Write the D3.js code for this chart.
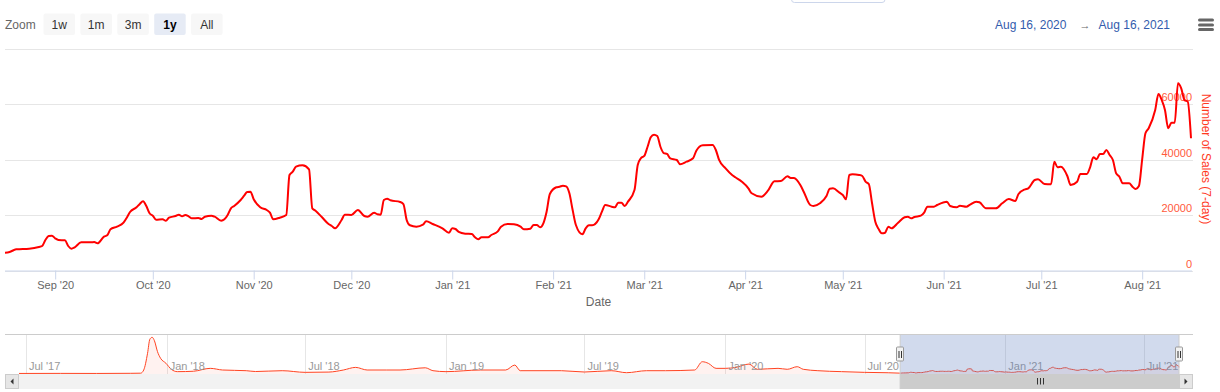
<!DOCTYPE html>
<html>
<head>
<meta charset="utf-8">
<script src="https://cdn.jsdelivr.net/npm/d3@7"></script>
<style>
  body { margin: 0; background: #fff; }
  svg { display: block; font-family: "Liberation Sans", Arial, Helvetica, sans-serif; }
</style>
</head>
<body>
<div id="container"></div>
<script>
/* CONSTANTS AND GLOBALS */
const width = 1220,
  height = 392,
  plot = {left: 5, right: 1192, top: 48.5, bottom: 270.5},
  nav = {left: 19, right: 1179, top: 334, bottom: 374, outerLeft: 5, outerRight: 1193},
  scrollH = 15;

/* DATA */
const saleDates = [
  "2020-08-16","2020-08-18","2020-08-20","2020-08-21","2020-08-24","2020-08-27","2020-08-28","2020-08-29","2020-08-30","2020-08-31",
  "2020-09-01","2020-09-02","2020-09-04","2020-09-05","2020-09-06","2020-09-07","2020-09-09","2020-09-12","2020-09-13","2020-09-14",
  "2020-09-16","2020-09-17","2020-09-18","2020-09-20","2020-09-22","2020-09-23","2020-09-24","2020-09-26","2020-09-27","2020-09-28",
  "2020-09-29","2020-09-30","2020-10-01","2020-10-02","2020-10-04","2020-10-05","2020-10-06","2020-10-08","2020-10-09","2020-10-10",
  "2020-10-11","2020-10-12","2020-10-13","2020-10-15","2020-10-16","2020-10-17","2020-10-19","2020-10-20","2020-10-22","2020-10-23",
  "2020-10-24","2020-10-25","2020-10-26","2020-10-28","2020-10-29","2020-10-30","2020-10-31","2020-11-01","2020-11-03","2020-11-05",
  "2020-11-06","2020-11-07","2020-11-09","2020-11-11","2020-11-12","2020-11-13","2020-11-14","2020-11-16","2020-11-18","2020-11-19",
  "2020-11-20","2020-11-22","2020-11-24","2020-11-25","2020-11-26","2020-11-28","2020-11-29","2020-12-01","2020-12-03","2020-12-05",
  "2020-12-06","2020-12-08","2020-12-09","2020-12-10","2020-12-11","2020-12-12","2020-12-13","2020-12-16","2020-12-17","2020-12-18",
  "2020-12-19","2020-12-21","2020-12-23","2020-12-24","2020-12-26","2020-12-29","2020-12-31","2021-01-01","2021-01-02","2021-01-03",
  "2021-01-05","2021-01-07","2021-01-08","2021-01-09","2021-01-10","2021-01-12","2021-01-13","2021-01-15","2021-01-16","2021-01-18",
  "2021-01-20","2021-01-22","2021-01-23","2021-01-25","2021-01-26","2021-01-27","2021-01-28","2021-01-29","2021-01-30","2021-01-31",
  "2021-02-02","2021-02-03","2021-02-04","2021-02-05","2021-02-06","2021-02-07","2021-02-08","2021-02-10","2021-02-11","2021-02-12",
  "2021-02-13","2021-02-15","2021-02-16","2021-02-17","2021-02-19","2021-02-20","2021-02-21","2021-02-22","2021-02-23","2021-02-24",
  "2021-02-26","2021-02-27","2021-02-28","2021-03-01","2021-03-02","2021-03-03","2021-03-04","2021-03-05","2021-03-06","2021-03-07",
  "2021-03-08","2021-03-09","2021-03-11","2021-03-12","2021-03-14","2021-03-16","2021-03-17","2021-03-19","2021-03-22","2021-03-23",
  "2021-03-24","2021-03-26","2021-03-28","2021-03-29","2021-03-31","2021-04-02","2021-04-03","2021-04-06","2021-04-08","2021-04-10",
  "2021-04-12","2021-04-14","2021-04-15","2021-04-16","2021-04-18","2021-04-19","2021-04-21","2021-04-22","2021-04-24","2021-04-26",
  "2021-04-27","2021-04-28","2021-04-30","2021-05-01","2021-05-02","2021-05-03","2021-05-04","2021-05-06","2021-05-07","2021-05-08",
  "2021-05-09","2021-05-10","2021-05-11","2021-05-12","2021-05-13","2021-05-14","2021-05-15","2021-05-16","2021-05-18","2021-05-20",
  "2021-05-21","2021-05-22","2021-05-23","2021-05-25","2021-05-26","2021-05-27","2021-05-29","2021-05-30","2021-06-02","2021-06-03",
  "2021-06-05","2021-06-06","2021-06-08","2021-06-09","2021-06-11","2021-06-12","2021-06-14","2021-06-17","2021-06-19","2021-06-21",
  "2021-06-23","2021-06-24","2021-06-26","2021-06-27","2021-06-29","2021-06-30","2021-07-02","2021-07-04","2021-07-05","2021-07-06",
  "2021-07-07","2021-07-09","2021-07-10","2021-07-12","2021-07-13","2021-07-15","2021-07-16","2021-07-17","2021-07-18","2021-07-19",
  "2021-07-20","2021-07-21","2021-07-22","2021-07-23","2021-07-24","2021-07-25","2021-07-26","2021-07-28","2021-07-29","2021-07-30",
  "2021-07-31","2021-08-01","2021-08-02","2021-08-03","2021-08-05","2021-08-06","2021-08-07","2021-08-08","2021-08-09","2021-08-10",
  "2021-08-11","2021-08-12","2021-08-13","2021-08-14","2021-08-15","2021-08-16"
];
const sales = [
  6300,6660,7640,7700,7860,8470,8830,10990,12430,12540,
  11600,11000,10880,8830,7860,8360,10160,10160,10270,9800,
  12180,12690,14850,15790,17230,19030,21080,22770,24000,24940,
  23250,20610,19750,18310,18450,17950,19030,19640,20110,19530,
  20000,19530,18810,18920,18560,19390,19750,19390,17950,18450,
  20000,22410,23250,25410,26850,28290,28400,25660,22770,21800,
  20830,18450,19030,20000,34420,35610,37410,37910,36470,22410,
  21550,19170,16760,16040,15210,18200,20110,20000,21800,19640,
  19390,20830,20250,20110,25410,25880,25300,24700,23960,18200,
  16290,15790,16510,17730,16760,15210,13620,15210,14960,13880,
  13260,13150,11960,11240,11960,11960,12790,14130,15790,16760,
  16650,15790,14850,15070,16400,16400,15570,17010,21190,27570,
  29980,30200,30560,30300,27800,21800,16400,13050,15210,16290,
  16290,18450,21190,23610,22990,22770,24430,24430,23250,24800,
  29000,38000,40500,41270,44500,48000,48940,48470,44500,42300,
  41990,40430,39820,38270,39210,40430,43180,45120,45230,43430,
  39820,36830,34420,33590,32000,29620,27820,26600,28760,32150,
  32260,33950,33340,33300,30700,28400,23610,23250,24220,26850,
  29480,29620,28040,27210,25660,34420,34670,34420,34060,32000,
  31170,24220,17590,15000,13400,13620,15790,15210,17230,19170,
  19390,18810,19280,19750,20830,22990,22990,23610,24800,23250,
  22770,23350,22990,23610,24800,24580,22410,22410,24220,25770,
  25050,27570,29260,29620,32620,32870,31170,31060,39210,37190,
  37410,34060,30810,32000,34780,34780,37190,40790,40080,41990,
  41990,43430,41630,39820,35030,33810,31430,31430,30200,29370,
  30450,40080,49450,51250,57840,63610,61450,57840,51250,53270,
  53270,67470,65660,61450,60840,47650
];

// navigator history before the selected year
const navDates = [
  "2017-06-22","2017-08-15","2017-10-01","2017-11-15","2017-11-28","2017-12-02","2017-12-07","2017-12-10","2017-12-13","2017-12-16",
  "2017-12-20","2017-12-24","2017-12-31","2018-01-07","2018-01-15","2018-02-05","2018-02-27","2018-03-15","2018-04-15","2018-04-27",
  "2018-06-01","2018-07-01","2018-08-01","2018-08-20","2018-09-05","2018-09-20","2018-10-15","2018-11-02","2018-12-05","2018-12-15",
  "2019-01-01","2019-02-15","2019-03-20","2019-04-01","2019-04-08","2019-06-01","2019-07-01","2019-08-05","2019-08-25","2019-09-20",
  "2019-10-15","2019-11-22","2019-12-02","2019-12-10","2019-12-20","2020-01-01","2020-01-15","2020-02-01","2020-02-12","2020-03-10",
  "2020-03-22","2020-04-04","2020-04-12","2020-05-01","2020-06-01","2020-07-01","2020-08-01"
];
const navSales = [
  4000,4500,4000,5000,6000,29000,150000,252000,266000,241000,
  162000,114000,78000,34000,17000,20000,41000,29000,24000,18000,
  24000,12000,14000,29000,48000,29000,29000,29000,45000,24000,
  17000,29000,29000,65000,24000,24000,14500,24000,9400,24000,
  24000,29000,89000,77000,41000,41000,48000,72000,34000,41000,
  34000,53000,34000,24000,17000,12000,9000
];

const yTicks = [0, 20000, 40000, 60000, 80000];
const monthTicks = ["2020-09-01","2020-10-01","2020-11-01","2020-12-01","2021-01-01","2021-02-01",
  "2021-03-01","2021-04-01","2021-05-01","2021-06-01","2021-07-01","2021-08-01"];
const navTicks = ["2017-07-01","2018-01-01","2018-07-01","2019-01-01","2019-07-01","2020-01-01",
  "2020-07-01","2021-01-01","2021-07-01"];
const zoomButtons = ["1w", "1m", "3m", "1y", "All"];
const selectedButton = "1y";
const rangeFrom = "Aug 16, 2020", rangeTo = "Aug 16, 2021";

const parse = d3.timeParse("%Y-%m-%d");
let xScale, yScale, navX, navY;
let state = {data: [], navData: []};

/* INITIALIZING FUNCTION */
function init() {
  state.data = saleDates.map((d, i) => ({date: parse(d), value: sales[i]}));
  state.navData = navDates.map((d, i) => ({date: parse(d), value: navSales[i]})).concat(state.data);

  xScale = d3.scaleTime()
    .domain([new Date(2020, 7, 16, 14), parse("2021-08-16")])
    .range([plot.left, 1191]);

  yScale = d3.scaleLinear()
    .domain([0, 80000])
    .range([plot.bottom, plot.top]);

  navX = d3.scaleTime()
    .domain([parse("2017-06-22"), parse("2021-08-16")])
    .range([nav.left, nav.right]);

  navY = d3.scaleLinear()
    .domain([0, 290000])
    .range([nav.bottom, nav.top]);

  draw();
}

/* DRAW FUNCTION */
function draw() {
  const svg = d3.select("#container")
    .append("svg")
    .attr("width", width)
    .attr("height", height);

  // popup edge peeking in at the top
  svg.append("rect")
    .attr("x", 791.5).attr("y", -12).attr("width", 93.5).attr("height", 14.5)
    .attr("rx", 3).attr("fill", "#fff").attr("stroke", "#ccd6eb");

  // range selector
  svg.append("text").attr("x", 5).attr("y", 28.5)
    .attr("font-size", 12).attr("fill", "#666").text("Zoom");

  const btn = svg.selectAll("g.btn")
    .data(zoomButtons)
    .join("g")
    .attr("class", "btn")
    .attr("transform", (d, i) => `translate(${43.5 + i * 36.9},13.5)`);
  btn.append("rect")
    .attr("width", 31.5).attr("height", 21.5).attr("rx", 2)
    .attr("fill", d => d === selectedButton ? "#e6ebf5" : "#f7f7f7");
  btn.append("text")
    .attr("x", 15.75).attr("y", 15)
    .attr("text-anchor", "middle")
    .attr("font-size", 12)
    .attr("font-weight", d => d === selectedButton ? "bold" : "normal")
    .attr("fill", d => d === selectedButton ? "#000" : "#333")
    .text(d => d);

  svg.append("text").attr("x", 995).attr("y", 28.5)
    .attr("font-size", 12).attr("fill", "#335cad").text(rangeFrom);
  svg.append("text").attr("x", 1085).attr("y", 28.5).attr("text-anchor", "middle")
    .attr("font-size", 11).attr("fill", "#666").text("\u2192");
  svg.append("text").attr("x", 1170).attr("y", 28.5).attr("text-anchor", "end")
    .attr("font-size", 12).attr("fill", "#335cad").text(rangeTo);

  // menu button
  svg.selectAll("line.menu")
    .data([20, 25, 29.5])
    .join("line")
    .attr("class", "menu")
    .attr("x1", 1199.5).attr("x2", 1212.5)
    .attr("y1", d => d).attr("y2", d => d)
    .attr("stroke", "#666").attr("stroke-width", 3).attr("stroke-linecap", "round");

  // y grid + labels
  svg.append("g")
    .selectAll("line")
    .data(yTicks)
    .join("line")
    .attr("x1", plot.left).attr("x2", 1193)
    .attr("y1", d => Math.round(yScale(d)) + 0.5)
    .attr("y2", d => Math.round(yScale(d)) + 0.5)
    .attr("stroke", "#e6e6e6");

  svg.append("g")
    .selectAll("text")
    .data(yTicks.slice(0, -1))
    .join("text")
    .attr("x", 1192).attr("y", d => yScale(d) - 3)
    .attr("text-anchor", "end")
    .attr("font-size", 11).attr("fill", "#ff5a3c")
    .text(d => d);

  svg.append("text")
    .attr("transform", "translate(1201.5,159) rotate(90)")
    .attr("text-anchor", "middle")
    .attr("font-size", 12).attr("fill", "#ff3a1f")
    .text("Number of Sales (7-day)");

  // x axis
  const xAxis = d3.axisBottom(xScale)
    .tickValues(monthTicks.map(parse))
    .tickFormat(d3.timeFormat("%b '%y"))
    .tickSize(9)
    .tickSizeOuter(0);

  const gx = svg.append("g")
    .attr("transform", `translate(0,${plot.bottom})`)
    .call(xAxis);
  gx.select(".domain").attr("stroke", "#ccd6eb").attr("d", `M${plot.left},0.5H1192`);
  gx.selectAll(".tick line").attr("stroke", "#ccd6eb");
  gx.selectAll(".tick text")
    .attr("font-size", 11).attr("fill", "#666").attr("font-family", null).attr("dy", null).attr("y", 18.5);

  svg.append("text").attr("x", 598.5).attr("y", 306)
    .attr("text-anchor", "middle").attr("font-size", 12).attr("fill", "#666").text("Date");

  // series
  svg.append("clipPath").attr("id", "plotClip")
    .append("rect").attr("x", plot.left).attr("y", 0)
    .attr("width", plot.right - plot.left).attr("height", plot.bottom + 2);

  const line = d3.line()
    .x(d => xScale(d.date))
    .y(d => yScale(d.value))
    .curve(d3.curveMonotoneX);

  svg.append("path")
    .datum(state.data)
    .attr("clip-path", "url(#plotClip)")
    .attr("fill", "none")
    .attr("stroke", "#ff0000")
    .attr("stroke-width", 2)
    .attr("stroke-linejoin", "round")
    .attr("d", line);

  /* NAVIGATOR */
  svg.append("g")
    .selectAll("line")
    .data(navTicks.map(parse))
    .join("line")
    .attr("x1", d => Math.round(navX(d)) + 0.5).attr("x2", d => Math.round(navX(d)) + 0.5)
    .attr("y1", nav.top).attr("y2", nav.bottom)
    .attr("stroke", "#e6e6e6");

  const navArea = d3.area()
    .x(d => navX(d.date))
    .y0(nav.bottom)
    .y1(d => navY(d.value))
    .curve(d3.curveMonotoneX);
  const navLine = d3.line()
    .x(d => navX(d.date))
    .y(d => navY(d.value))
    .curve(d3.curveMonotoneX);

  svg.append("path").datum(state.navData)
    .attr("fill", "rgba(255,40,0,0.06)").attr("d", navArea);
  svg.append("path").datum(state.navData)
    .attr("fill", "none").attr("stroke", "#ff4422").attr("stroke-width", 1).attr("d", navLine);

  svg.append("g")
    .selectAll("text")
    .data(navTicks.map(parse))
    .join("text")
    .attr("x", d => navX(d) + 3).attr("y", 370)
    .attr("font-size", 11).attr("fill", "#999")
    .text(d3.timeFormat("%b '%y"));

  const m0 = navX(xScale.domain()[0]), m1 = nav.right;
  svg.append("rect")
    .attr("x", m0).attr("y", nav.top)
    .attr("width", m1 - m0).attr("height", nav.bottom - nav.top)
    .attr("fill", "rgba(102,133,194,0.3)");

  svg.append("path")
    .attr("fill", "none").attr("stroke", "#cccccc")
    .attr("d", `M${nav.outerLeft},${nav.top + 0.5}H${nav.outerRight}` +
      `M${m0},${nav.top}V${nav.bottom}M${m1},${nav.top}V${nav.bottom}`);

  // scrollbar
  const sb = svg.append("g");
  sb.append("rect").attr("x", nav.outerLeft).attr("y", nav.bottom)
    .attr("width", nav.outerRight - nav.outerLeft).attr("height", scrollH).attr("fill", "#f2f2f2");
  sb.append("rect").attr("x", m0).attr("y", nav.bottom + 0.5)
    .attr("width", m1 - m0).attr("height", scrollH - 1)
    .attr("fill", "#cccccc").attr("stroke", "#cccccc");
  const gc = (m0 + m1) / 2;
  sb.selectAll("line.grip")
    .data([-3, 0, 3])
    .join("line").attr("class", "grip")
    .attr("x1", d => Math.round(gc + d) + 0.5).attr("x2", d => Math.round(gc + d) + 0.5)
    .attr("y1", 378).attr("y2", 384.5)
    .attr("stroke", "#333");

  [[nav.outerLeft, -1], [nav.right, 1]].forEach(([bx, dir]) => {
    sb.append("rect").attr("x", bx + 0.5).attr("y", nav.bottom + 0.5)
      .attr("width", 13).attr("height", scrollH - 1)
      .attr("fill", "#e6e6e6").attr("stroke", "#cccccc");
    const cx = bx + 7, cy = nav.bottom + scrollH / 2;
    sb.append("path")
      .attr("d", `M${cx - dir * 1.5},${cy - 3}L${cx + dir * 1.5},${cy}L${cx - dir * 1.5},${cy + 3}Z`)
      .attr("fill", "#333");
  });

  // handles
  [m0, m1].forEach(hx => {
    const h = svg.append("g").attr("transform", `translate(${Math.round(hx)},347)`);
    h.append("rect").attr("x", -3.5).attr("y", 0).attr("width", 7).attr("height", 14)
      .attr("rx", 1).attr("fill", "#f2f2f2").attr("stroke", "#999");
    h.append("path").attr("d", "M-1,4V11M1.5,4V11").attr("stroke", "#333").attr("fill", "none");
  });
}

init();
</script>
</body>
</html>
